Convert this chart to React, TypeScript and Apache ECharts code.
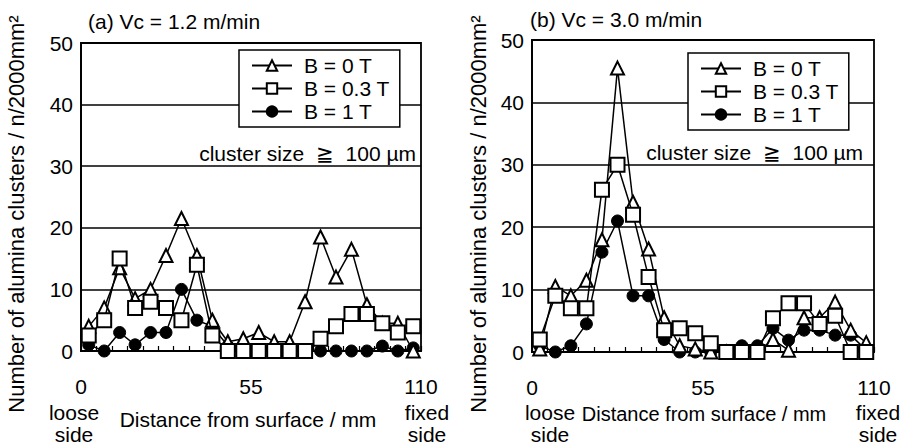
import React, { useEffect, useRef } from "react";
import * as echarts from "echarts";

// Distance from surface (mm): centres of 5 mm bins
const distances = [2.5, 7.5, 12.5, 17.5, 22.5, 27.5, 32.5, 37.5, 42.5, 47.5, 52.5, 57.5, 62.5, 67.5, 72.5, 77.5, 82.5, 87.5, 92.5, 97.5, 102.5, 107.5];

// (a) Vc = 1.2 m/min
const aB0 = [4, 7, 13.5, 8.5, 10, 15.5, 21.5, 15.5, 5, 1.5, 2, 3, 1.5, 1.5, 8, 18.5, 12, 16.5, 7.5, 4.5, 4.5, 0];
const aB03 = [2.5, 5, 15, 7, 8, 7, 5, 14, 2.5, 0, 0, 0, 0, 0, 0, 2, 4, 6, 6, 4.5, 3, 4];
const aB1 = [1, 0, 3, 1, 3, 3, 10, 5, 4, 0.8, 0, 0, 0, 0, 0, 0, 0, 0, 0, 0.8, 0, 0.5];

// (b) Vc = 3.0 m/min
const bB0 = [0.5, 10.5, 9, 11.5, 18, 45.5, 24, 16.5, 5.5, 1, 0.5, 0, 0, 0, 0, 2, 0.3, 5.5, 5.5, 8, 3.5, 1.5];
const bB03 = [2, 9, 7, 7, 26, 30, 22, 12, 3.5, 3.8, 3, 1.4, 0, 0, 0, 5.4, 7.8, 7.8, 4.5, 5.8, 0, 0];
const bB1 = [1, 0, 1, 4.5, 16, 21, 9, 9, 2, 0, 0, 0, 0, 1, 1, 3.8, 1.9, 3.5, 3.5, 2.7, 2.7, 0.3];

const seriesNames = ["B = 0 T", "B = 0.3 T", "B = 1 T"];
const xTickLabels = [0, 55, 110];
const panelTitles = ["(a) Vc = 1.2 m/min", "(b) Vc = 3.0 m/min"];

const FONT = "Liberation Sans, Arial, Helvetica, sans-serif";

const pairs = (vals: number[]) => vals.map((v, i) => [distances[i], v]);

export default function App() {
  const ref = useRef<HTMLDivElement>(null);
  useEffect(() => {
    if (!ref.current) return;
    const chart = echarts.init(ref.current, undefined, { renderer: "svg" });
    const grids = [
      { left: 81, top: 43, width: 340, height: 308 },
      { left: 532, top: 40, width: 342, height: 312 },
    ];
    const xAxis = grids.map((_, i) => ({
      type: "value",
      gridIndex: i,
      min: 0,
      max: 110,
      interval: 5,
      axisLine: { show: true, lineStyle: { color: "#000", width: 1.8 } },
      axisTick: { show: true, inside: true, length: 5, lineStyle: { color: "#000", width: 1.2 } },
      splitLine: { show: false },
      axisLabel: {
        margin: 25,
        fontSize: 21,
        color: "#000",
        fontFamily: FONT,
        formatter: (v: number) => (xTickLabels.includes(v) ? String(v) : ""),
      },
    }));
    const yAxis = grids.map((_, i) => ({
      type: "value",
      gridIndex: i,
      min: 0,
      max: 50,
      interval: 10,
      axisLine: { show: true, lineStyle: { color: "#000", width: 1.8 } },
      axisTick: { show: false },
      splitLine: { show: true, lineStyle: { color: "#000", width: 1.5 } },
      axisLabel: { margin: 8, fontSize: 21, color: "#000", fontFamily: FONT },
    }));
    const mk = (name: string, data: number[], gi: number, kind: number) => {
      const base: any = {
        name,
        type: "line",
        xAxisIndex: gi,
        yAxisIndex: gi,
        data: pairs(data),
        lineStyle: { color: "#000", width: 1.5 },
        emphasis: { disabled: true },
      };
      if (kind === 0) {
        return { ...base, symbol: "triangle", symbolSize: 13, z: 3, itemStyle: { color: "#fff", borderColor: "#000", borderWidth: 2 } };
      } else if (kind === 1) {
        return { ...base, symbol: "rect", symbolSize: 14, z: 4, itemStyle: { color: "#fff", borderColor: "#000", borderWidth: 2 } };
      }
      return { ...base, symbol: "circle", symbolSize: 12, z: 2, itemStyle: { color: "#000", borderColor: "#000", borderWidth: 1 } };
    };
    const series = [
      mk(seriesNames[0], aB0, 0, 0),
      mk(seriesNames[1], aB03, 0, 1),
      mk(seriesNames[2], aB1, 0, 2),
      mk(seriesNames[0], bB0, 1, 0),
      mk(seriesNames[1], bB03, 1, 1),
      mk(seriesNames[2], bB1, 1, 2),
    ];
    const legendCommon = {
      orient: "vertical",
      data: seriesNames,
      itemWidth: 40,
      itemHeight: 13,
      itemGap: 2,
      backgroundColor: "#fff",
      borderColor: "#000",
      borderWidth: 1.5,
      borderRadius: 0,
      padding: [5, 10, 5, 12],
      selectedMode: false,
      textStyle: { fontSize: 21, color: "#000", fontFamily: FONT, padding: [0, 0, 0, 7] },
    };
    const legend = [
      { ...legendCommon, left: 239, top: 50 },
      { ...legendCommon, left: 688, top: 53 },
    ];
    const txt = (text: string, x: number, y: number, extra: any = {}) => ({
      type: "text",
      x,
      y,
      silent: true,
      style: {
        text,
        fontSize: 21,
        fontFamily: FONT,
        fill: "#000",
        textAlign: "center",
        textVerticalAlign: "middle",
        ...extra,
      },
    });
    const yTitle = "Number of alumina clusters / n/2000mm²";
    const graphic = [
      txt(panelTitles[0], 88, 21, { textAlign: "left" }),
      txt(panelTitles[1], 530, 19, { textAlign: "left" }),
      { ...txt(yTitle, 0, 0, { fontSize: 22 }), x: 16, y: 214, rotation: Math.PI / 2 },
      { ...txt(yTitle, 0, 0, { fontSize: 22 }), x: 478, y: 214, rotation: Math.PI / 2 },
      txt("loose\nside", 74, 423, { lineHeight: 22 }),
      txt("fixed\nside", 427, 423, { lineHeight: 22 }),
      txt("Distance from surface / mm", 248, 419),
      txt("loose\nside", 550, 423, { lineHeight: 22 }),
      txt("fixed\nside", 878, 423, { lineHeight: 22 }),
      txt("Distance from surface / mm", 704, 414, { fontSize: 20 }),
      txt("cluster size  ≧  100 µm", 416, 153, { textAlign: "right" }),
      txt("cluster size  ≧  100 µm", 863, 152, { textAlign: "right" }),
    ];
    chart.setOption({
      animation: false,
      backgroundColor: "#fff",
      textStyle: { fontFamily: FONT },
      grid: grids.map((g) => ({ ...g, show: true, borderColor: "#000", borderWidth: 1.8, backgroundColor: "transparent" })),
      xAxis,
      yAxis,
      legend,
      series,
      graphic,
    } as any);
    return () => chart.dispose();
  }, []);
  return <div ref={ref} style={{ position: "fixed", left: 0, top: 0, width: 905, height: 446 }} />;
}
